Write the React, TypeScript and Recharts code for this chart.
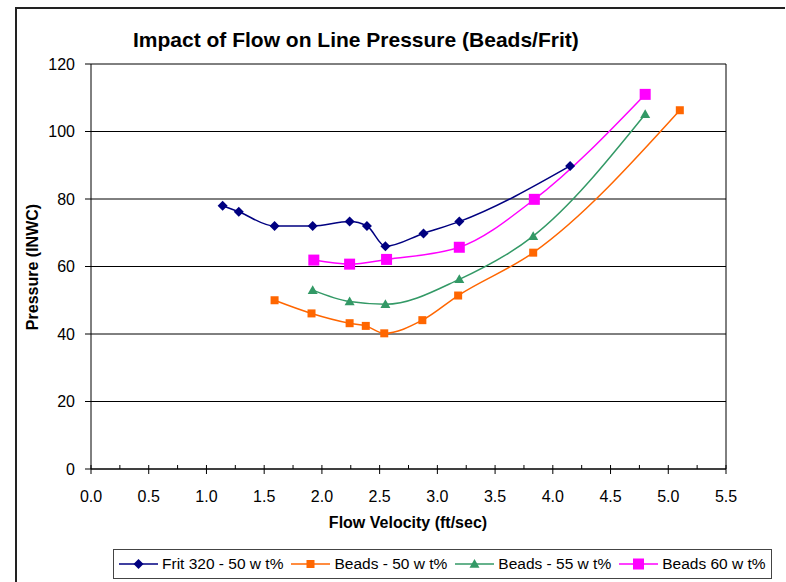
import { LineChart, Line, XAxis, YAxis, CartesianGrid, ReferenceLine } from 'recharts';

const fritVelocity = [1.14, 1.28, 1.59, 1.92, 2.24, 2.39, 2.55, 2.88, 3.19, 4.15];
const fritPressure = [78.0, 76.2, 72.0, 72.0, 73.3, 72.0, 66.0, 69.8, 73.3, 89.8];

const beads50Velocity = [1.59, 1.91, 2.24, 2.38, 2.54, 2.87, 3.18, 3.83, 5.10];
const beads50Pressure = [50.0, 46.1, 43.2, 42.4, 40.2, 44.1, 51.4, 64.1, 106.3];

const beads55Velocity = [1.92, 2.24, 2.55, 3.19, 3.83, 4.80];
const beads55Pressure = [53.0, 49.6, 48.8, 56.2, 69.0, 105.1];

const beads60Velocity = [1.93, 2.24, 2.56, 3.19, 3.84, 4.80];
const beads60Pressure = [61.9, 60.7, 62.1, 65.7, 79.9, 111.0];

const xTicks = [0, 0.25, 0.5, 0.75, 1, 1.25, 1.5, 1.75, 2, 2.25, 2.5, 2.75, 3, 3.25, 3.5, 3.75, 4, 4.25, 4.5, 4.75, 5, 5.25, 5.5];
const yTicks = [0, 20, 40, 60, 80, 100, 120];

const FONT = '"Liberation Sans", Arial, sans-serif';

const toPoints = (xs: number[], ys: number[]) => xs.map((v, i) => ({ v, p: ys[i] }));

const series = [
    { name: 'Frit 320 - 50 w t%', data: toPoints(fritVelocity, fritPressure), color: '#000080', shape: 'diamond', size: 10 },
    { name: 'Beads - 50 w t%', data: toPoints(beads50Velocity, beads50Pressure), color: '#FF6600', shape: 'square', size: 8 },
    { name: 'Beads - 55 w t%', data: toPoints(beads55Velocity, beads55Pressure), color: '#339966', shape: 'triangle', size: 10 },
    { name: 'Beads 60 w t%', data: toPoints(beads60Velocity, beads60Pressure), color: '#FF00FF', shape: 'square', size: 11 },
];

const Marker = ({ cx, cy, shape, color, size }: any) => {
    const h = size / 2;
    if (shape === 'diamond') {
        return <polygon points={`${cx},${cy - h} ${cx + h},${cy} ${cx},${cy + h} ${cx - h},${cy}`} fill={color} />;
    }
    if (shape === 'triangle') {
        return <polygon points={`${cx},${cy - h} ${cx + h},${cy + h * 0.75} ${cx - h},${cy + h * 0.75}`} fill={color} />;
    }
    return <rect x={cx - h} y={cy - h} width={size} height={size} fill={color} />;
};

const XTick = (props: any) => {
    const { x, y, payload } = props;
    const axisY = y - 11; // tickSize 5 + tickMargin 6
    const v = payload.value;
    const major = Math.abs(v * 2 - Math.round(v * 2)) < 1e-6;
    return (
        <g>
            <line x1={x} x2={x} y1={axisY - 4} y2={major ? axisY + 5 : axisY} stroke="#000" />
            {major && (
                <text x={x} y={axisY + 27} textAnchor="middle" dominantBaseline="central" fontSize={16} fill="#000" fontFamily={FONT}>
                    {v.toFixed(1)}
                </text>
            )}
        </g>
    );
};

const App = () => {
    return (
        <div style={{ position: 'absolute', left: 0, top: 0, width: 786, height: 582, background: '#fff', fontFamily: FONT, overflow: 'hidden' }}>
            {/* outer frame */}
            <div style={{ position: 'absolute', left: 15, top: 7, width: 768, height: 600, borderLeft: '2px solid #222', borderTop: '2px solid #222' }} />

            <div style={{ position: 'absolute', left: 133, top: 28, fontSize: 21, fontWeight: 'bold', lineHeight: '24px', whiteSpace: 'nowrap' }}>
                Impact of Flow on Line Pressure (Beads/Frit)
            </div>

            <LineChart width={786} height={582} margin={{ top: 64, right: 60, bottom: 83, left: 31 }} style={{ position: 'absolute', left: 0, top: 0 }}>
                <CartesianGrid vertical={false} stroke="#000" />
                <XAxis
                    type="number"
                    dataKey="v"
                    domain={[0, 5.5]}
                    ticks={xTicks}
                    interval={0}
                    tickLine={false}
                    tickSize={5}
                    tickMargin={6}
                    tick={<XTick />}
                    axisLine={{ stroke: '#000' }}
                    height={30}
                    allowDuplicatedCategory={false}
                />
                <YAxis
                    type="number"
                    domain={[0, 120]}
                    ticks={yTicks}
                    interval={0}
                    width={60}
                    tickSize={6}
                    tickMargin={10}
                    tickLine={{ stroke: '#000' }}
                    axisLine={{ stroke: '#000' }}
                    tick={{ fill: '#000', fontSize: 16, fontFamily: FONT }}
                />
                <ReferenceLine x={5.5} stroke="#000" />
                {series.map((s) => (
                    <Line
                        key={s.name}
                        data={s.data}
                        dataKey="p"
                        type="monotone"
                        stroke={s.color}
                        strokeWidth={1.5}
                        isAnimationActive={false}
                        dot={(p: any) => <Marker key={`${s.name}-${p.index}`} cx={p.cx} cy={p.cy} shape={s.shape} color={s.color} size={s.size} />}
                        activeDot={false}
                    />
                ))}
            </LineChart>

            <div
                style={{
                    position: 'absolute',
                    left: 33,
                    top: 267,
                    transform: 'translate(-50%, -50%) rotate(-90deg)',
                    fontSize: 16,
                    fontWeight: 'bold',
                    whiteSpace: 'nowrap',
                }}
            >
                Pressure (INWC)
            </div>
            <div style={{ position: 'absolute', left: 408, top: 523, transform: 'translate(-50%, -50%)', fontSize: 16, fontWeight: 'bold', whiteSpace: 'nowrap' }}>
                Flow Velocity (ft/sec)
            </div>

            {/* legend */}
            <div
                style={{
                    position: 'absolute',
                    left: 113,
                    top: 549,
                    width: 659,
                    height: 30,
                    boxSizing: 'border-box',
                    border: '1px solid #444',
                    display: 'flex',
                    alignItems: 'center',
                    paddingLeft: 5,
                    fontSize: 15.5,
                    whiteSpace: 'nowrap',
                }}
            >
                {series.map((s) => (
                    <div key={s.name} style={{ display: 'flex', alignItems: 'center', marginRight: 8 }}>
                        <svg width={39} height={14}>
                            <line x1={0} x2={39} y1={7} y2={7} stroke={s.color} strokeWidth={1.5} />
                            <Marker cx={19.5} cy={7} shape={s.shape} color={s.color} size={s.size} />
                        </svg>
                        <span style={{ marginLeft: 4 }}>{s.name}</span>
                    </div>
                ))}
            </div>
        </div>
    );
};

export default App;
